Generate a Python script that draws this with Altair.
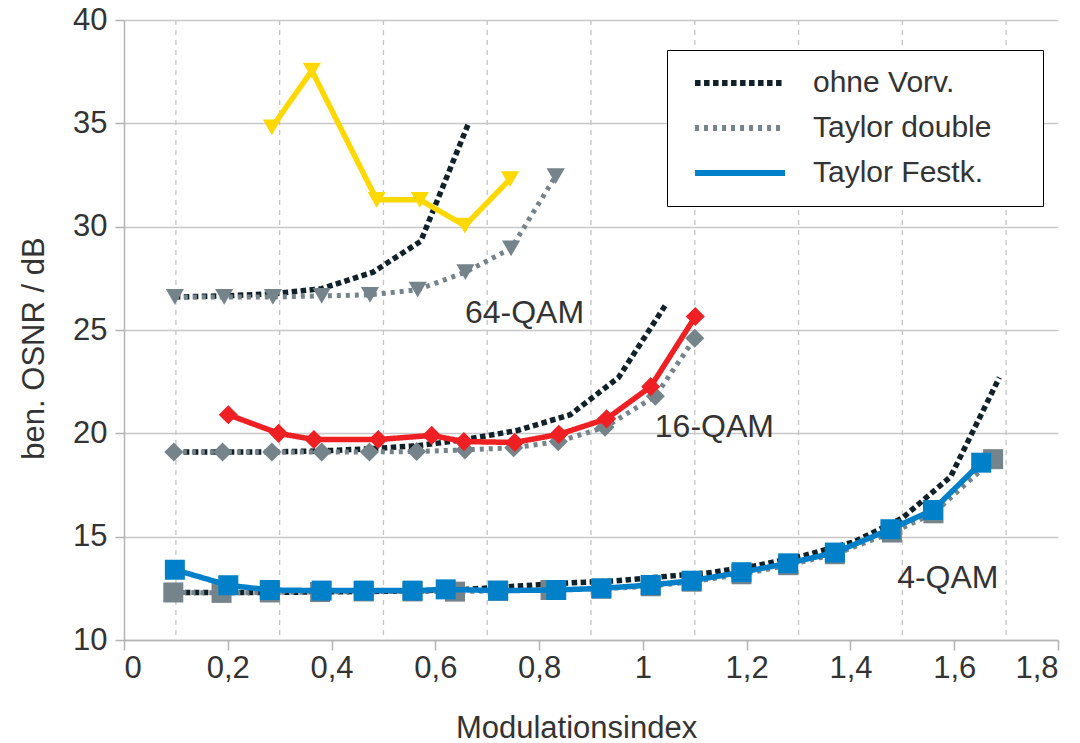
import altair as alt
import pandas as pd

# ---------------- data ----------------
SER_BLACK = "ohne Vorv."
SER_GRAY = "Taylor double"
SER_BLUE = "Taylor Festk."
SER_RED = "Taylor Festk. 16"
SER_YEL = "Taylor Festk. 64"

# 4-QAM
x4_black = [0.1, 0.193, 0.287, 0.38, 0.473, 0.567, 0.66, 0.753, 0.847, 0.94, 1.033, 1.127, 1.22, 1.313, 1.407, 1.5, 1.593, 1.687]
y4_black = [12.3, 12.3, 12.3, 12.33, 12.35, 12.38, 12.45, 12.6, 12.75, 12.85, 13.05, 13.25, 13.6, 14.1, 14.75, 15.9, 17.9, 22.7]
x4_double = [0.095, 0.188, 0.281, 0.378, 0.462, 0.556, 0.638, 0.721, 0.822, 0.92, 1.015, 1.094, 1.19, 1.28, 1.37, 1.48, 1.56, 1.675]
y4_double = [12.3, 12.28, 12.3, 12.32, 12.35, 12.35, 12.34, 12.38, 12.42, 12.48, 12.6, 12.82, 13.18, 13.62, 14.15, 15.2, 16.13, 18.75]
x4_fest = [0.098, 0.201, 0.281, 0.381, 0.462, 0.556, 0.62, 0.721, 0.833, 0.92, 1.015, 1.094, 1.19, 1.28, 1.37, 1.477, 1.559, 1.652]
y4_fest = [13.4, 12.65, 12.42, 12.39, 12.39, 12.39, 12.45, 12.39, 12.42, 12.5, 12.66, 12.87, 13.28, 13.71, 14.23, 15.36, 16.29, 18.58]

# 16-QAM
x16_black = [0.098, 0.19, 0.285, 0.38, 0.473, 0.565, 0.658, 0.76, 0.86, 0.953, 1.046]
y16_black = [19.1, 19.1, 19.1, 19.15, 19.25, 19.4, 19.7, 20.15, 20.9, 22.7, 26.3]
x16_double = [0.096, 0.19, 0.285, 0.381, 0.473, 0.564, 0.657, 0.751, 0.837, 0.927, 1.024, 1.1]
y16_double = [19.1, 19.1, 19.1, 19.1, 19.1, 19.12, 19.2, 19.3, 19.6, 20.3, 21.8, 24.6]
x16_fest = [0.201, 0.298, 0.366, 0.49, 0.593, 0.655, 0.753, 0.838, 0.93, 1.015, 1.101]
y16_fest = [20.9, 20.0, 19.7, 19.7, 19.9, 19.6, 19.56, 19.95, 20.7, 22.26, 25.65]

# 64-QAM
x64_black = [0.098, 0.193, 0.287, 0.381, 0.48, 0.572, 0.664]
y64_black = [26.6, 26.65, 26.75, 27.0, 27.8, 29.3, 35.0]
x64_double = [0.098, 0.193, 0.287, 0.381, 0.474, 0.566, 0.658, 0.746, 0.832]
y64_double = [26.6, 26.6, 26.6, 26.65, 26.7, 26.95, 27.8, 28.95, 32.45]
x64_fest = [0.285, 0.362, 0.487, 0.57, 0.657, 0.744]
y64_fest = [34.8, 37.55, 31.3, 31.3, 30.05, 32.3]

# annotations
lab_text = ["64-QAM", "16-QAM", "4-QAM"]
lab_x = [0.657, 1.023, 1.49]
lab_y = [25.8, 20.3, 13.0]

x_ticks = [0, 0.2, 0.4, 0.6, 0.8, 1, 1.2, 1.4, 1.6, 1.8]
x_grid = [0.1, 0.3, 0.5, 0.7, 0.9, 1.1, 1.3, 1.5, 1.7]
y_ticks = [10, 15, 20, 25, 30, 35, 40]

series_domain = [SER_BLACK, SER_GRAY, SER_BLUE, SER_RED, SER_YEL]
series_colors = ["#11212a", "#75838a", "#0080c8", "#ee2024", "#ffd800"]
series_dash = [[5.5, 3.5], [4, 5], [1, 0], [1, 0], [1, 0]]

# ---------------- table ----------------
rows = []
def add(xs, ys, ser, mod):
    for i, (a, b) in enumerate(zip(xs, ys)):
        rows.append({"x": a, "y": b, "series": ser, "mod": mod, "order": i})

add(x4_black, y4_black, SER_BLACK, "4-QAM")
add(x4_double, y4_double, SER_GRAY, "4-QAM")
add(x4_fest, y4_fest, SER_BLUE, "4-QAM")
add(x16_black, y16_black, SER_BLACK, "16-QAM")
add(x16_double, y16_double, SER_GRAY, "16-QAM")
add(x16_fest, y16_fest, SER_RED, "16-QAM")
add(x64_black, y64_black, SER_BLACK, "64-QAM")
add(x64_double, y64_double, SER_GRAY, "64-QAM")
add(x64_fest, y64_fest, SER_YEL, "64-QAM")
df = pd.DataFrame(rows)

FONT = "Liberation Sans"
TXT = "#333333"
PAD_TAIL = "    \u200b"   # trailing spaces kept alive by a zero-width space (widens the legend box)

x_enc = alt.X(
    "x:Q",
    scale=alt.Scale(domain=[0, 1.8], nice=False, zero=False),
    axis=alt.Axis(
        values=x_ticks, grid=False, tickSize=10, tickColor="#b3b3b3", domainColor="#b3b3b3",
        domainWidth=1.5, tickWidth=1.5,
        labelExpr="replace(toString(datum.value), '.', ',')",
        labelFontSize=31, labelColor=TXT, labelFont=FONT, labelPadding=3,
        title="Modulationsindex", titleFontSize=31, titleFont=FONT, titleColor=TXT,
        titleFontWeight="normal", titlePadding=30, titleX=452,
    ),
)
y_enc = alt.Y(
    "y:Q",
    scale=alt.Scale(domain=[10, 40], nice=False, zero=False),
    axis=alt.Axis(
        values=y_ticks, grid=True, gridColor="#c8c8c8", gridWidth=1.5,
        tickSize=9, tickColor="#b3b3b3", domainColor="#b3b3b3", domainWidth=1.5, tickWidth=1.5,
        labelFontSize=31, labelColor=TXT, labelFont=FONT, labelPadding=8,
        title="ben. OSNR / dB", titleFontSize=31, titleFont=FONT, titleColor=TXT,
        titleFontWeight="normal", titlePadding=22, titleY=328,
    ),
)

legend = alt.Legend(
    values=[SER_BLACK, SER_GRAY, SER_BLUE],
    title=None, orient="none", legendX=543, legendY=30,
    symbolType="M-0.45,0H7.73", symbolSize=484, symbolStrokeWidth=6,
    labelFontSize=30, labelFont=FONT, labelColor=TXT, labelOffset=98, labelLimit=500,
    labelExpr="datum.label + '" + PAD_TAIL + "'",
    rowPadding=15, padding=18, strokeColor="#000000", fillColor="#ffffff",
)
color_enc = alt.Color("series:N", scale=alt.Scale(domain=series_domain, range=series_colors), legend=legend)
dash_enc = alt.StrokeDash("series:N", scale=alt.Scale(domain=series_domain, range=series_dash), legend=legend)

shape_scale = alt.Scale(domain=["4-QAM", "16-QAM", "64-QAM"], range=["square", "diamond", "triangle-down"])
size_scale = alt.Scale(domain=["4-QAM", "16-QAM", "64-QAM"], range=[400, 330, 400])
fill_enc = alt.Fill("series:N", scale=alt.Scale(domain=series_domain, range=series_colors), legend=None)

base = alt.Chart(df)

grid = alt.Chart(pd.DataFrame({"x": x_grid})).mark_rule(
    color="#c4c4c4", strokeWidth=1.3, strokeDash=[5, 5]
).encode(x=x_enc)

black_lines = base.transform_filter(alt.datum.series == SER_BLACK).mark_line(strokeWidth=5.5, strokeCap="butt").encode(
    x=x_enc, y=y_enc, color=color_enc, strokeDash=dash_enc, detail="mod:N", order="order:Q")

gray_lines = base.transform_filter(alt.datum.series == SER_GRAY).mark_line(strokeWidth=5, strokeCap="butt").encode(
    x=x_enc, y=y_enc, color=color_enc, strokeDash=dash_enc, detail="mod:N", order="order:Q")

gray_pts = base.transform_filter(alt.datum.series == SER_GRAY).mark_point(filled=True, opacity=1, strokeWidth=0).encode(
    x=x_enc, y=y_enc, fill=fill_enc,
    shape=alt.Shape("mod:N", scale=shape_scale, legend=None),
    size=alt.Size("mod:N", scale=size_scale, legend=None))

fest_filter = (alt.datum.series == SER_BLUE) | (alt.datum.series == SER_RED) | (alt.datum.series == SER_YEL)
fest_lines = base.transform_filter(fest_filter).mark_line(strokeWidth=5.5, strokeJoin="miter").encode(
    x=x_enc, y=y_enc, color=color_enc, strokeDash=dash_enc, detail="mod:N", order="order:Q")

fest_pts = base.transform_filter(fest_filter).mark_point(filled=True, opacity=1, strokeWidth=0).encode(
    x=x_enc, y=y_enc, fill=fill_enc,
    shape=alt.Shape("mod:N", scale=shape_scale, legend=None),
    size=alt.Size("mod:N", scale=size_scale, legend=None))

labels = alt.Chart(pd.DataFrame({"t": lab_text, "x": lab_x, "y": lab_y})).mark_text(
    align="left", baseline="middle", fontSize=32, font=FONT, color=TXT
).encode(x=x_enc, y=y_enc, text="t:N")

chart = alt.layer(grid, black_lines, gray_lines, gray_pts, fest_lines, fest_pts, labels).properties(
    width=934, height=620,
    autosize=alt.AutoSizeParams(type="none"),
    padding={"left": 124, "top": 20, "right": 22, "bottom": 103},
    background="#ffffff",
).configure_view(stroke=None)

chart.save("out.html", embed_options={"renderer": "svg", "actions": False})
